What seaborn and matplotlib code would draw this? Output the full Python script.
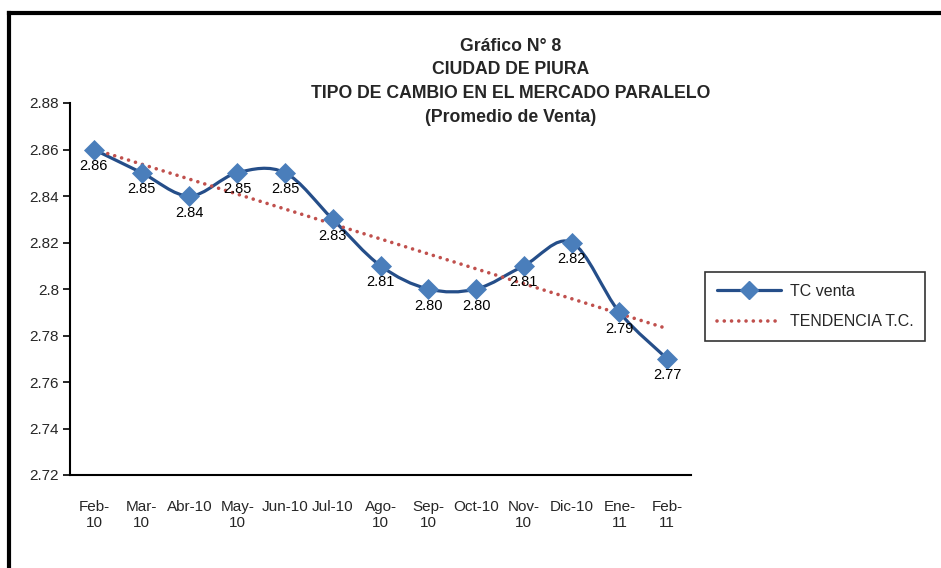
import numpy as np
import pandas as pd
import matplotlib
matplotlib.use("Agg")
import matplotlib.pyplot as plt
from matplotlib.path import Path
from matplotlib.patches import PathPatch
from matplotlib.lines import Line2D
import seaborn as sns

# datos del grafico
meses = ["Feb-\n10", "Mar-\n10", "Abr-10", "May-\n10", "Jun-10", "Jul-10", "Ago-\n10",
         "Sep-\n10", "Oct-10", "Nov-\n10", "Dic-10", "Ene-\n11", "Feb-\n11"]
tc_venta = [2.86, 2.85, 2.84, 2.85, 2.85, 2.83, 2.81, 2.80, 2.80, 2.81, 2.82, 2.79, 2.77]
y_ticks = [2.72, 2.74, 2.76, 2.78, 2.80, 2.82, 2.84, 2.86, 2.88]
y_tick_labels = ["2.72", "2.74", "2.76", "2.78", "2.8", "2.82", "2.84", "2.86", "2.88"]
titulo = "Gráfico N° 8\nCIUDAD DE PIURA\nTIPO DE CAMBIO EN EL MERCADO PARALELO\n(Promedio de Venta)"

df = pd.DataFrame({"pos": np.arange(len(meses)), "tc": tc_venta})

sns.set_style("white")
plt.rcParams["font.family"] = ["Liberation Sans", "DejaVu Sans"]

LINE_COL = "#254E89"
MARK_COL = "#4A7EBB"
TREND_COL = "#C0504D"

fig = plt.figure(figsize=(9.41, 5.68), dpi=100)
ax = fig.add_axes([70 / 941, 1 - 475 / 568, 621 / 941, 372 / 568])

# smoothed line (excel style, catmull-rom -> bezier)
x = df["pos"].to_numpy(float)
y = df["tc"].to_numpy(float)
verts = [(x[0], y[0])]
codes = [Path.MOVETO]
n = len(x)
for i in range(n - 1):
    p0 = np.array([x[max(i - 1, 0)], y[max(i - 1, 0)]])
    p1 = np.array([x[i], y[i]])
    p2 = np.array([x[i + 1], y[i + 1]])
    p3 = np.array([x[min(i + 2, n - 1)], y[min(i + 2, n - 1)]])
    c1 = p1 + (p2 - p0) / 6
    c2 = p2 - (p3 - p1) / 6
    verts += [tuple(c1), tuple(c2), tuple(p2)]
    codes += [Path.CURVE4] * 3
ax.add_patch(PathPatch(Path(verts, codes), facecolor="none", edgecolor=LINE_COL,
                       linewidth=2.3, zorder=2))

# linea de tendencia
sns.regplot(data=df, x="pos", y="tc", scatter=False, ci=None, ax=ax,
            line_kws=dict(color=TREND_COL, linewidth=2.6, linestyle=(0, (0.01, 2.0)),
                          dash_capstyle="round", zorder=3))

sns.scatterplot(data=df, x="pos", y="tc", marker="D", s=115, color=MARK_COL,
                edgecolor=MARK_COL, linewidth=0, ax=ax, zorder=4)

for xi, yi in zip(x, y):
    ax.annotate(f"{yi:.2f}", (xi, yi), xytext=(0, -12), textcoords="offset points",
                ha="center", va="center", fontsize=10.5, color="black", zorder=5)

ax.set_xlim(-0.5, n - 0.5)
ax.set_ylim(2.72, 2.88)
ax.set_yticks(y_ticks)
ax.set_yticklabels(y_tick_labels, fontsize=11)
ax.set_xticks(x)
ax.set_xticklabels(meses, fontsize=11, linespacing=1.2)
ax.set_xticks(np.arange(-0.5, n, 1.0), minor=True)
ax.tick_params(axis="x", which="major", length=0, pad=18)
ax.tick_params(axis="x", which="minor", length=5, width=1.2, direction="in", color="black")
ax.tick_params(axis="y", length=5, width=1.2, direction="out", color="black", pad=3, left=True)
ax.set_xlabel("")
ax.set_ylabel("")
for s in ["top", "right"]:
    ax.spines[s].set_visible(False)
for s in ["left", "bottom"]:
    ax.spines[s].set_color("black")
    ax.spines[s].set_linewidth(1.5)

fig.text(511 / 941, 1 - 38 / 568, titulo, ha="center", va="top", fontsize=12.7,
         fontweight="bold", linespacing=1.5)

handles = [Line2D([], [], color=LINE_COL, linewidth=2.3, marker="D", markersize=9,
                  markerfacecolor=MARK_COL, markeredgecolor=MARK_COL),
           Line2D([], [], color=TREND_COL, linewidth=2.6, linestyle=(0, (0.01, 2.0)),
                  dash_capstyle="round")]
leg = fig.legend(handles, ["TC venta", "TENDENCIA T.C."], loc="upper left",
                 bbox_to_anchor=(705 / 941, 1 - 272 / 568), borderaxespad=0, frameon=True,
                 fancybox=False, edgecolor="black", fontsize=11.5, handlelength=4.0,
                 borderpad=0.75, labelspacing=0.95, handletextpad=0.55)
leg.get_frame().set_linewidth(1.2)

# borde del grafico
fig.add_artist(Line2D([9 / 941, 9 / 941], [0, 1 - 12.5 / 568], color="black", linewidth=3,
                      transform=fig.transFigure, solid_capstyle="projecting"))
fig.add_artist(Line2D([9 / 941, 1], [1 - 12.5 / 568, 1 - 12.5 / 568], color="black",
                      linewidth=3, transform=fig.transFigure, solid_capstyle="projecting"))

fig.savefig("out.png", dpi=100)
